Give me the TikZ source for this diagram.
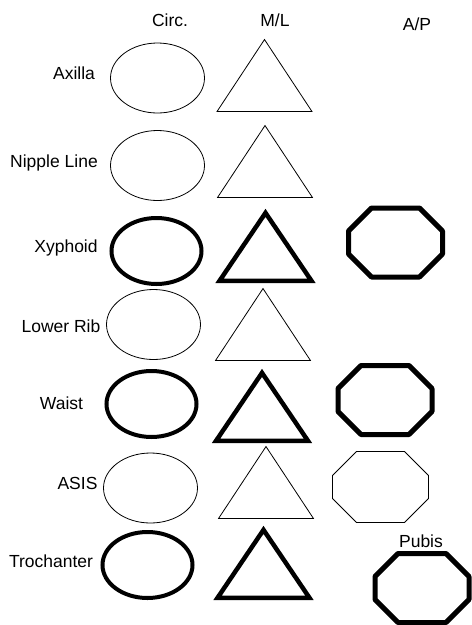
\documentclass[tikz,border=0pt]{standalone}
\usepackage{fontspec}
\setmainfont{Liberation Sans}
\usetikzlibrary{shapes.geometric}

\tikzset{
  lbl/.style={font=\fontsize{17.5}{20}\selectfont, inner sep=0pt},
  circ/.style={draw, ellipse, line width=0.8pt, minimum width=94pt, minimum height=70pt, inner sep=0pt},
  circthick/.style={circ, line width=4pt, minimum width=90pt, minimum height=66pt},
  ml/.style={draw, isosceles triangle, isosceles triangle stretches, shape border rotate=90,
    line width=0.8pt, minimum width=95pt, minimum height=72pt, inner sep=0pt, anchor=apex},
  mlthick/.style={ml, line width=4.5pt, minimum width=92pt, minimum height=68pt},
  apbox/.style={rectangle, inner sep=0pt, outer sep=0pt, minimum width=96pt, minimum height=71pt},
  apboxthick/.style={apbox, minimum width=94pt, minimum height=69pt},
  apline/.style={line width=0.8pt},
  aplinethick/.style={line width=5pt, line join=round}
}

% octagon drawn round a box node: #1 node, #2 line style, #3 chamfer
\newcommand{\apoct}[3]{%
  \draw[#2] ([xshift=#3]#1.north west) -- ([xshift=-#3]#1.north east)
    -- ([yshift=-#3]#1.north east) -- ([yshift=#3]#1.south east)
    -- ([xshift=-#3]#1.south east) -- ([xshift=#3]#1.south west)
    -- ([yshift=#3]#1.south west) -- ([yshift=-#3]#1.north west) -- cycle;}

\begin{document}
\begin{tikzpicture}[x=1pt, y=-1pt]
\useasboundingbox (0,0) rectangle (472,625);

% --- column heads ---
\node[lbl] (hcirc) at (170,20) {Circ.};
\node[lbl] (hml) at (275,20) {M/L};
\node[lbl] (hap) at (417,24) {A/P};

% --- Axilla ---
\node[lbl] (laxilla) at (74,73) {Axilla};
\node[circ] (caxilla) at (157.5,78) {};
\node[ml] (maxilla) at (264.5,38.5) {};

% --- Nipple Line ---
\node[lbl] (lnipple) at (54,163) {Nipple Line};
\node[circ] (cnipple) at (157.5,165.5) {};
\node[ml] (mnipple) at (265,124.5) {};

% --- Xyphoid ---
\node[lbl] (lxyphoid) at (66,248) {Xyphoid};
\node[circthick] (cxyphoid) at (156.5,251) {};
\node[mlthick] (mxyphoid) at (265.5,207) {};
\node[apboxthick] (axyphoid) at (395.5,242.5) {};
\apoct{axyphoid}{aplinethick}{23pt}

% --- Lower Rib ---
\node[lbl] (lrib) at (61,326) {Lower Rib};
\node[circ] (crib) at (153.5,324.5) {};
\node[ml] (mrib) at (263,287.5) {};

% --- Waist ---
\node[lbl] (lwaist) at (61.5,403) {Waist};
\node[circthick] (cwaist) at (151.5,404) {};
\node[mlthick] (mwaist) at (262,367) {};
\node[apboxthick] (awaist) at (385,400) {};
\apoct{awaist}{aplinethick}{23pt}

% --- ASIS ---
\node[lbl] (lasis) at (77.5,483) {ASIS};
\node[circ] (casis) at (150.5,488) {};
\node[ml] (masis) at (266,445.5) {};
\node[apbox] (aasis) at (380.5,487) {};
\apoct{aasis}{apline}{24pt}

% --- Trochanter ---
\node[lbl] (ltroch) at (51,561) {Trochanter};
\node[circthick] (ctroch) at (147.5,565) {};
\node[mlthick] (mtroch) at (263.5,524) {};
\node[apboxthick] (apubis) at (422,588) {};
\apoct{apubis}{aplinethick}{23pt}
\node[lbl] (lpubis) at (421,541) {Pubis};

\end{tikzpicture}
\end{document}
